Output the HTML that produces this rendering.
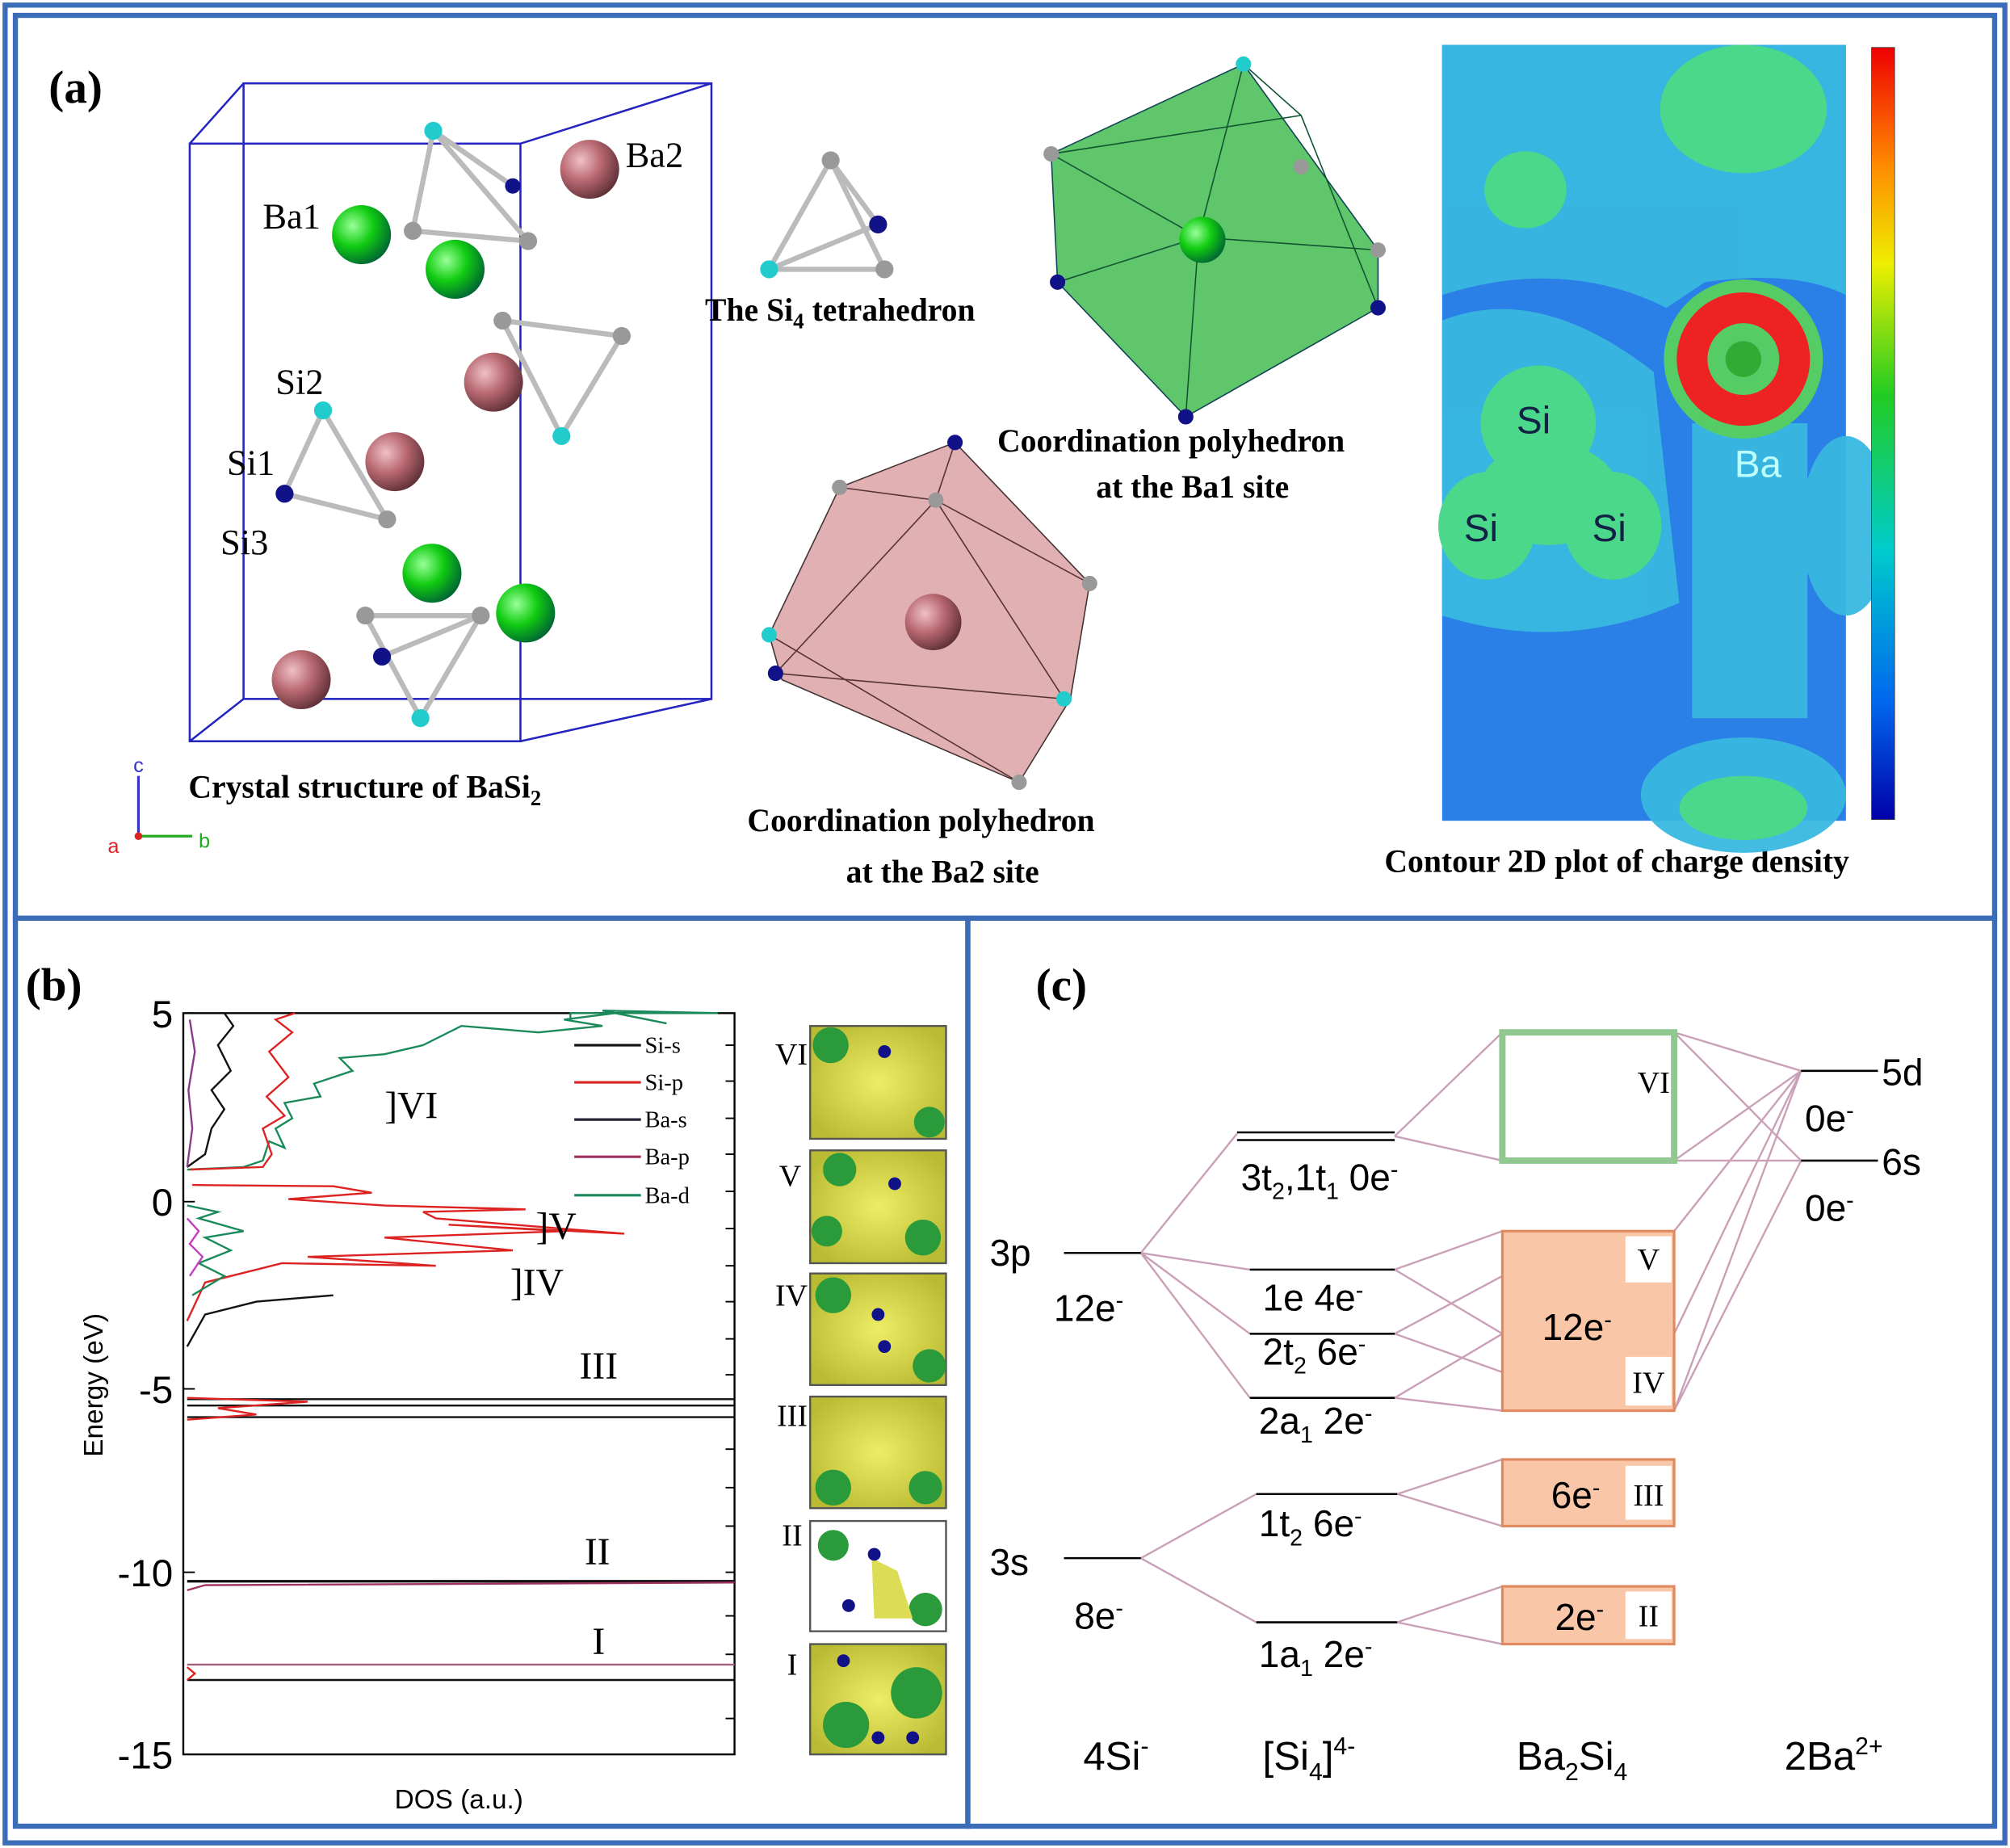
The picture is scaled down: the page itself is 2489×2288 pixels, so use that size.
<!DOCTYPE html>
<html><head><meta charset="utf-8"><style>html,body{margin:0;padding:0;background:#fff}svg{display:block}</style></head>
<body>
<svg width="2489" height="2288" viewBox="0 0 1568 1441" preserveAspectRatio="none" xmlns="http://www.w3.org/2000/svg">
<defs>
<radialGradient id="gG" cx="35%" cy="35%" r="70%"><stop offset="0" stop-color="#9f9"/><stop offset=".5" stop-color="#1c1"/><stop offset="1" stop-color="#063"/></radialGradient>
<radialGradient id="gP" cx="35%" cy="35%" r="70%"><stop offset="0" stop-color="#f0c0c8"/><stop offset=".5" stop-color="#b86870"/><stop offset="1" stop-color="#603038"/></radialGradient>
<linearGradient id="cb" x1="0" y1="0" x2="0" y2="1"><stop offset="0" stop-color="#e00"/><stop offset=".15" stop-color="#f80"/><stop offset=".28" stop-color="#ee0"/><stop offset=".45" stop-color="#2c2"/><stop offset=".65" stop-color="#0cc"/><stop offset=".85" stop-color="#06e"/><stop offset="1" stop-color="#00a"/></linearGradient>
<radialGradient id="gY" cx="50%" cy="50%" r="60%"><stop offset="0" stop-color="#ee6"/><stop offset="1" stop-color="#bb3"/></radialGradient>
</defs>
<rect width="1568" height="1441" fill="#fff"/>
<g fill="none" stroke="#3a6cb8" stroke-width="4">
<rect x="4" y="4" width="1560" height="1433"/>
<rect x="12" y="12" width="1544" height="704"/>
<rect x="12" y="716" width="743" height="708"/>
<rect x="755" y="716" width="801" height="708"/>
</g>
<!-- Panel a -->
<text x="38" y="80" font-family="Liberation Serif, serif" font-weight="bold" font-size="36">(a)</text>
<g fill="none" stroke="#2424c0" stroke-width="1.6">
<rect x="148" y="112" width="258" height="466"/>
<rect x="190" y="65" width="365" height="480"/>
<line x1="148" y1="112" x2="190" y2="65"/><line x1="406" y1="112" x2="555" y2="65"/>
<line x1="148" y1="578" x2="190" y2="545"/><line x1="406" y1="578" x2="555" y2="545"/>
</g>
<g stroke="#bbb" stroke-width="4" fill="none">
<path d="M338,102 L322,180 L412,188 Z M338,102 L412,188 M338,102 L400,145"/>
<path d="M252,320 L222,385 L302,405 Z M252,320 L302,405"/>
<path d="M392,250 L485,262 L438,340 Z M392,250 L438,340"/>
<path d="M285,480 L375,480 L328,560 Z M285,480 L328,560 M298,512 L375,480"/>
<path d="M600,210 L648,125 L690,210 Z M648,125 L685,175 M600,210 L685,175"/>
</g>
<g>
<circle cx="338" cy="102" r="7" fill="#2cc"/><circle cx="322" cy="180" r="7" fill="#999"/><circle cx="412" cy="188" r="7" fill="#999"/><circle cx="400" cy="145" r="6" fill="#118"/>
<circle cx="252" cy="320" r="7" fill="#2cc"/><circle cx="222" cy="385" r="7" fill="#118"/><circle cx="302" cy="405" r="7" fill="#999"/>
<circle cx="392" cy="250" r="7" fill="#999"/><circle cx="485" cy="262" r="7" fill="#999"/><circle cx="438" cy="340" r="7" fill="#2cc"/>
<circle cx="285" cy="480" r="7" fill="#999"/><circle cx="375" cy="480" r="7" fill="#999"/><circle cx="328" cy="560" r="7" fill="#2cc"/><circle cx="298" cy="512" r="7" fill="#118"/>
<circle cx="648" cy="125" r="7" fill="#999"/><circle cx="600" cy="210" r="7" fill="#2cc"/><circle cx="690" cy="210" r="7" fill="#999"/><circle cx="685" cy="175" r="7" fill="#118"/>
</g>
<g>
<circle cx="282" cy="183" r="23" fill="url(#gG)"/><circle cx="355" cy="210" r="23" fill="url(#gG)"/><circle cx="337" cy="447" r="23" fill="url(#gG)"/><circle cx="410" cy="478" r="23" fill="url(#gG)"/>
<circle cx="460" cy="132" r="23" fill="url(#gP)"/><circle cx="385" cy="298" r="23" fill="url(#gP)"/><circle cx="308" cy="360" r="23" fill="url(#gP)"/><circle cx="235" cy="530" r="23" fill="url(#gP)"/>
</g>
<g font-family="Liberation Serif, serif" font-size="28">
<text x="205" y="178">Ba1</text><text x="488" y="130">Ba2</text><text x="215" y="307">Si2</text><text x="177" y="370">Si1</text><text x="172" y="432">Si3</text>
</g>
<g stroke-width="2"><line x1="108" y1="652" x2="108" y2="605" stroke="#33c"/><line x1="108" y1="652" x2="150" y2="652" stroke="#2a2"/><circle cx="108" cy="652" r="3" fill="#d22"/></g>
<text x="104" y="602" font-family="Liberation Sans, sans-serif" font-size="16" fill="#33c">c</text>
<text x="84" y="665" font-family="Liberation Sans, sans-serif" font-size="16" fill="#d22">a</text>
<text x="155" y="661" font-family="Liberation Sans, sans-serif" font-size="16" fill="#2a2">b</text>
<g font-family="Liberation Serif, serif" font-weight="bold" font-size="25">
<text x="147" y="622">Crystal structure of BaSi<tspan font-size="17" dy="6">2</tspan></text>
<text x="550" y="250">The Si<tspan font-size="17" dy="6">4</tspan><tspan dy="-6"> tetrahedron</tspan></text>
<text x="778" y="352">Coordination polyhedron</text><text x="855" y="388">at the Ba1 site</text>
<text x="583" y="648">Coordination polyhedron</text><text x="660" y="688">at the Ba2 site</text>
<text x="1080" y="680">Contour 2D plot of charge density</text>
</g>
<polygon points="820,120 970,50 1075,195 1075,240 925,325 825,220" fill="#2bb33a" fill-opacity=".75" stroke="#145" stroke-width="1"/>
<g stroke="#153" stroke-width="1" fill="none"><path d="M820,120 L935,185 L1075,195 M970,50 L935,185 L925,325 M825,220 L935,185 M820,120 L1015,90 L1075,240 M970,50 L1015,90"/></g>
<circle cx="938" cy="187" r="18" fill="url(#gG)"/>
<g><circle cx="970" cy="50" r="6" fill="#2cc"/><circle cx="820" cy="120" r="6" fill="#999"/><circle cx="1015" cy="130" r="6" fill="#999"/><circle cx="1075" cy="240" r="6" fill="#118"/><circle cx="925" cy="325" r="6" fill="#118"/><circle cx="825" cy="220" r="6" fill="#118"/><circle cx="1075" cy="195" r="6" fill="#999"/></g>
<polygon points="600,495 655,380 745,345 850,455 835,545 795,610 610,530" fill="#d99ca0" fill-opacity=".8" stroke="#433" stroke-width="1"/>
<g stroke="#533" stroke-width="1" fill="none"><path d="M655,380 L730,390 L850,455 M730,390 L605,525 L830,545 L730,390 M600,495 L795,610 M745,345 L730,390"/></g>
<circle cx="728" cy="485" r="22" fill="url(#gP)"/>
<g><circle cx="745" cy="345" r="6" fill="#118"/><circle cx="655" cy="380" r="6" fill="#999"/><circle cx="730" cy="390" r="6" fill="#999"/><circle cx="850" cy="455" r="6" fill="#999"/><circle cx="605" cy="525" r="6" fill="#118"/><circle cx="830" cy="545" r="6" fill="#2cc"/><circle cx="795" cy="610" r="6" fill="#999"/><circle cx="600" cy="495" r="6" fill="#2cc"/></g>
<!-- contour -->
<rect x="1125" y="35" width="315" height="605" fill="#2a80e6"/>
<g fill="#38b8e0" opacity=".95"><path d="M1125,35 L1440,35 L1440,230 Q1400,210 1330,220 L1300,240 Q1220,200 1125,230 Z"/><path d="M1125,250 Q1200,220 1290,290 L1310,470 Q1220,510 1125,480 Z"/><path d="M1320,330 L1410,330 L1410,560 L1320,560 Z"/><ellipse cx="1360" cy="620" rx="80" ry="45"/><ellipse cx="1440" cy="410" rx="35" ry="70"/></g>
<g fill="#4cd88a"><ellipse cx="1360" cy="85" rx="65" ry="50"/><ellipse cx="1190" cy="148" rx="32" ry="30"/><ellipse cx="1360" cy="630" rx="50" ry="25"/>
<ellipse cx="1160" cy="410" rx="38" ry="42"/><ellipse cx="1258" cy="410" rx="38" ry="42"/><ellipse cx="1200" cy="330" rx="45" ry="45"/><ellipse cx="1208" cy="385" rx="55" ry="40"/></g>
<circle cx="1360" cy="280" r="62" fill="#5c6"/>
<circle cx="1360" cy="280" r="40" fill="none" stroke="#e22" stroke-width="24"/>
<circle cx="1360" cy="280" r="14" fill="#3a3"/>
<g font-family="Liberation Sans, sans-serif" font-size="30"><text x="1183" y="338" fill="#124">Si</text><text x="1142" y="422" fill="#124">Si</text><text x="1242" y="422" fill="#124">Si</text><text x="1353" y="372" fill="#bff">Ba</text></g>
<rect x="1460" y="37" width="18" height="602" fill="url(#cb)" stroke="#333" stroke-width=".5"/>
<!-- Panel b -->
<text x="20" y="780" font-family="Liberation Serif, serif" font-weight="bold" font-size="36">(b)</text>
<rect x="143" y="790" width="430" height="578" fill="none" stroke="#000" stroke-width="1.5"/>
<g stroke="#000" stroke-width="1.2">
<line x1="143" y1="790" x2="152" y2="790"/><line x1="143" y1="937" x2="152" y2="937"/><line x1="143" y1="1083" x2="152" y2="1083"/><line x1="143" y1="1226" x2="152" y2="1226"/>
<line x1="573" y1="815" x2="566" y2="815"/><line x1="573" y1="843" x2="566" y2="843"/><line x1="573" y1="872" x2="566" y2="872"/><line x1="573" y1="900" x2="566" y2="900"/><line x1="573" y1="929" x2="566" y2="929"/><line x1="573" y1="958" x2="566" y2="958"/><line x1="573" y1="987" x2="566" y2="987"/><line x1="573" y1="1015" x2="566" y2="1015"/><line x1="573" y1="1044" x2="566" y2="1044"/><line x1="573" y1="1072" x2="566" y2="1072"/><line x1="573" y1="1130" x2="566" y2="1130"/><line x1="573" y1="1160" x2="566" y2="1160"/><line x1="573" y1="1190" x2="566" y2="1190"/><line x1="573" y1="1226" x2="566" y2="1226"/><line x1="573" y1="1260" x2="566" y2="1260"/><line x1="573" y1="1290" x2="566" y2="1290"/><line x1="573" y1="1340" x2="566" y2="1340"/>
</g>
<g font-family="Liberation Sans, sans-serif" font-size="30" text-anchor="end"><text x="135" y="801">5</text><text x="135" y="948">0</text><text x="135" y="1094">-5</text><text x="135" y="1237">-10</text><text x="135" y="1379">-15</text></g>
<text transform="translate(80,1080) rotate(-90)" font-family="Liberation Sans, sans-serif" font-size="21" text-anchor="middle">Energy (eV)</text>
<text x="358" y="1410" font-family="Liberation Sans, sans-serif" font-size="21" text-anchor="middle">DOS (a.u.)</text>
<g fill="none" stroke-width="1.5">
<polyline stroke="#1a8a5a" points="146,912 190,910 205,905 210,890 222,895 215,880 228,872 222,860 250,855 245,845 275,835 265,825 300,822 330,815 360,800 420,805 470,800 440,795 480,790 520,798 470,788 560,790 445,790 445,795"/>
<polyline stroke="#d22" points="148,912 205,910 212,900 205,880 222,870 208,855 225,840 210,820 228,805 215,795 230,790"/>
<polyline stroke="#111" points="146,910 160,900 165,880 175,865 165,850 180,835 170,815 182,800 175,790"/>
<polyline stroke="#8a3a8a" points="146,910 150,880 147,850 152,820 148,795"/>
<polyline stroke="#d22" points="146,1030 160,1000 200,990 220,985 340,987 240,980 400,975 300,965 440,960 350,955 487,962 340,950 330,945 410,943 300,940 225,935 290,930 260,925 150,924"/>
<polyline stroke="#1a8a5a" points="146,940 170,945 155,950 190,960 160,965 180,975 155,985 175,995 150,1010"/>
<polyline stroke="#c040c0" points="146,950 155,960 148,970 158,980 148,995"/>
<polyline stroke="#111" points="146,1050 160,1025 200,1015 260,1010"/>
<line x1="146" y1="1091" x2="573" y2="1091" stroke="#111"/><line x1="146" y1="1096" x2="573" y2="1096" stroke="#111"/>
<line x1="146" y1="1105" x2="573" y2="1105" stroke="#111"/>
<polyline stroke="#d22" points="146,1090 240,1093 170,1098 200,1103 146,1107"/>
<line x1="146" y1="1233" x2="573" y2="1233" stroke="#111" stroke-width="2"/>
<polyline stroke="#a03060" points="146,1240 160,1236 573,1234"/>
<line x1="146" y1="1298" x2="573" y2="1298" stroke="#a06080"/>
<line x1="146" y1="1310" x2="573" y2="1310" stroke="#111"/>
<polyline stroke="#d22" points="146,1300 152,1305 146,1310"/>
</g>
<g stroke-width="2">
<line x1="448" y1="815" x2="500" y2="815" stroke="#111"/><line x1="448" y1="844" x2="500" y2="844" stroke="#d22"/><line x1="448" y1="873" x2="500" y2="873" stroke="#223"/><line x1="448" y1="902" x2="500" y2="902" stroke="#a03060"/><line x1="448" y1="932" x2="500" y2="932" stroke="#1a8a5a"/>
</g>
<g font-family="Liberation Serif, serif" font-size="18"><text x="503" y="821">Si-s</text><text x="503" y="850">Si-p</text><text x="503" y="879">Ba-s</text><text x="503" y="908">Ba-p</text><text x="503" y="938">Ba-d</text></g>
<g font-family="Liberation Serif, serif" font-size="30">
<text x="300" y="872">]VI</text><text x="418" y="966">]V</text><text x="398" y="1010">]IV</text><text x="452" y="1075">III</text><text x="456" y="1220">II</text><text x="462" y="1290">I</text>
</g>
<g>
<g stroke="#555" stroke-width="1.5"><rect x="632" y="800" width="106" height="88" fill="url(#gY)"/><rect x="632" y="897" width="106" height="88" fill="url(#gY)"/><rect x="632" y="993" width="106" height="87" fill="url(#gY)"/><rect x="632" y="1089" width="106" height="87" fill="url(#gY)"/><rect x="632" y="1186" width="106" height="86" fill="#fff"/><rect x="632" y="1282" width="106" height="86" fill="url(#gY)"/></g>
<g fill="#2a9a3a"><circle cx="648" cy="815" r="14"/><circle cx="725" cy="875" r="12"/><circle cx="655" cy="912" r="13"/><circle cx="720" cy="965" r="14"/><circle cx="645" cy="960" r="12"/><circle cx="650" cy="1010" r="14"/><circle cx="725" cy="1065" r="13"/><circle cx="650" cy="1160" r="14"/><circle cx="722" cy="1160" r="13"/><circle cx="650" cy="1205" r="12"/><circle cx="722" cy="1255" r="13"/><circle cx="660" cy="1345" r="18"/><circle cx="715" cy="1320" r="20"/></g>
<path d="M680,1215 L700,1225 L712,1262 L682,1262 Z" fill="#dd5"/>
<g fill="#118"><circle cx="690" cy="820" r="5"/><circle cx="698" cy="923" r="5"/><circle cx="685" cy="1025" r="5"/><circle cx="690" cy="1050" r="5"/><circle cx="682" cy="1212" r="5"/><circle cx="662" cy="1252" r="5"/><circle cx="658" cy="1295" r="5"/><circle cx="685" cy="1355" r="5"/><circle cx="712" cy="1355" r="5"/></g>
</g>
<g font-family="Liberation Serif, serif" font-size="24" text-anchor="end"><text x="630" y="830">VI</text><text x="625" y="925">V</text><text x="630" y="1018">IV</text><text x="630" y="1112">III</text><text x="626" y="1205">II</text><text x="622" y="1306">I</text></g>
<!-- Panel c -->
<text x="808" y="780" font-family="Liberation Serif, serif" font-weight="bold" font-size="36">(c)</text>
<g stroke="#c9a0b8" stroke-width="1.5" fill="none">
<path d="M890,977 L965,884 M890,977 L975,990 M890,977 L975,1040 M890,977 L975,1090 M890,1215 L980,1165 M890,1215 L980,1265"/>
<path d="M1088,886 L1172,805 M1088,886 L1172,905 M1088,990 L1172,960 M1088,990 L1172,1040 M1088,1040 L1172,995 M1088,1040 L1172,1070 M1088,1090 L1172,1040 M1088,1090 L1172,1100 M1090,1165 L1172,1138 M1090,1165 L1172,1190 M1090,1265 L1172,1237 M1090,1265 L1172,1282"/>
<path d="M1306,805 L1405,835 M1306,905 L1405,835 M1306,805 L1405,905 M1306,905 L1405,905 M1306,960 L1405,835 M1306,1100 L1405,835 M1306,1100 L1405,905 M1306,1040 L1405,835"/>
</g>
<g stroke="#000" stroke-width="1.6">
<line x1="830" y1="977" x2="890" y2="977"/><line x1="830" y1="1215" x2="890" y2="1215"/>
<line x1="965" y1="883" x2="1088" y2="883"/><line x1="965" y1="889" x2="1088" y2="889"/>
<line x1="975" y1="990" x2="1088" y2="990"/><line x1="975" y1="1040" x2="1088" y2="1040"/><line x1="975" y1="1090" x2="1088" y2="1090"/>
<line x1="980" y1="1165" x2="1090" y2="1165"/><line x1="980" y1="1265" x2="1090" y2="1265"/>
<line x1="1405" y1="835" x2="1465" y2="835"/><line x1="1405" y1="905" x2="1465" y2="905"/>
</g>
<rect x="1172" y="805" width="134" height="100" fill="none" stroke="#90c890" stroke-width="5"/>
<g fill="#f9c6a8" stroke="#e08a60" stroke-width="2"><rect x="1172" y="960" width="134" height="140"/><rect x="1172" y="1138" width="134" height="52"/><rect x="1172" y="1237" width="134" height="45"/></g>
<g fill="#fff"><rect x="1268" y="964" width="36" height="36"/><rect x="1268" y="1058" width="36" height="38"/><rect x="1268" y="1143" width="36" height="42"/><rect x="1268" y="1241" width="36" height="37"/></g>
<g font-family="Liberation Serif, serif" font-size="24" text-anchor="middle"><text x="1290" y="852">VI</text><text x="1286" y="990">V</text><text x="1286" y="1086">IV</text><text x="1286" y="1174">III</text><text x="1286" y="1268">II</text></g>
<g font-family="Liberation Sans, sans-serif" font-size="29">
<text x="772" y="987">3p</text><text x="822" y="1030">12e<tspan font-size="18" dy="-10">-</tspan></text>
<text x="772" y="1228">3s</text><text x="838" y="1270">8e<tspan font-size="18" dy="-10">-</tspan></text>
<text x="968" y="928">3t<tspan font-size="18" dy="7">2</tspan><tspan dy="-7">,1t</tspan><tspan font-size="18" dy="7">1</tspan><tspan dy="-7"> 0e</tspan><tspan font-size="18" dy="-10">-</tspan></text>
<text x="985" y="1022">1e 4e<tspan font-size="18" dy="-10">-</tspan></text>
<text x="985" y="1064">2t<tspan font-size="18" dy="7">2</tspan><tspan dy="-7"> 6e</tspan><tspan font-size="18" dy="-10">-</tspan></text>
<text x="982" y="1118">2a<tspan font-size="18" dy="7">1</tspan><tspan dy="-7"> 2e</tspan><tspan font-size="18" dy="-10">-</tspan></text>
<text x="982" y="1198">1t<tspan font-size="18" dy="7">2</tspan><tspan dy="-7"> 6e</tspan><tspan font-size="18" dy="-10">-</tspan></text>
<text x="982" y="1300">1a<tspan font-size="18" dy="7">1</tspan><tspan dy="-7"> 2e</tspan><tspan font-size="18" dy="-10">-</tspan></text>
<text x="1203" y="1045">12e<tspan font-size="18" dy="-10">-</tspan></text>
<text x="1210" y="1176">6e<tspan font-size="18" dy="-10">-</tspan></text>
<text x="1213" y="1271">2e<tspan font-size="18" dy="-10">-</tspan></text>
<text x="1468" y="846">5d</text><text x="1408" y="882">0e<tspan font-size="18" dy="-10">-</tspan></text>
<text x="1468" y="916">6s</text><text x="1408" y="952">0e<tspan font-size="18" dy="-10">-</tspan></text>
</g>
<g font-family="Liberation Sans, sans-serif" font-size="31">
<text x="845" y="1380">4Si<tspan font-size="19" dy="-12">-</tspan></text>
<text x="985" y="1380">[Si<tspan font-size="19" dy="8">4</tspan><tspan dy="-8">]</tspan><tspan font-size="19" dy="-12">4-</tspan></text>
<text x="1183" y="1380">Ba<tspan font-size="19" dy="8">2</tspan><tspan dy="-8">Si</tspan><tspan font-size="19" dy="8">4</tspan></text>
<text x="1392" y="1380">2Ba<tspan font-size="19" dy="-12">2+</tspan></text>
</g>
</svg>
</body></html>
